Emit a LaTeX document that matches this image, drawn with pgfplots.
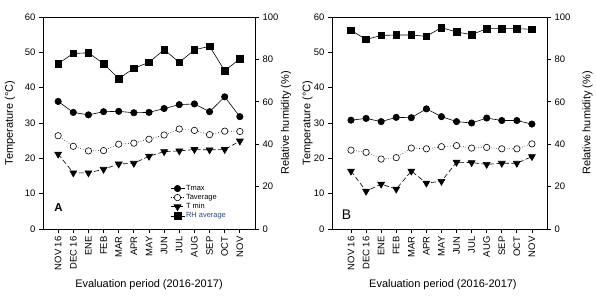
\documentclass[border=0pt]{standalone}
\usepackage{pgfplots}
\usepackage{pgfplotstable}
\pgfplotsset{compat=1.18}
\usepackage{fontspec}
\setmainfont{Liberation Sans}
\definecolor{rhblue}{RGB}{45,70,130}

\pgfplotstableread{
x tmax tavg tmin rh
0 36.1 26.4 21.2 78.0
1 33.0 23.4 15.9 82.8
2 32.3 22.1 15.9 83.1
3 33.2 22.2 16.9 78.0
4 33.3 24.0 18.4 70.9
5 32.9 24.3 18.6 75.8
6 33.0 25.4 20.6 78.6
7 34.1 26.6 21.9 84.6
8 35.2 28.3 22.1 78.6
9 35.4 27.9 22.5 84.5
10 33.2 26.7 22.4 86.2
11 37.4 27.7 22.5 74.6
12 31.8 27.6 24.9 80.3
}\tabA

\pgfplotstableread{
x tmax tavg tmin rh
0 30.8 22.3 16.4 93.7
1 31.3 21.7 10.7 89.4
2 30.4 19.8 12.7 91.3
3 31.6 20.2 11.3 91.5
4 31.5 22.9 16.4 91.5
5 34.0 22.7 13.0 90.9
6 31.8 23.3 13.5 95.0
7 30.4 23.6 18.9 92.9
8 30.0 22.9 18.8 91.7
9 31.4 23.1 18.3 94.5
10 30.7 22.7 18.6 94.5
11 30.7 22.7 18.6 94.5
12 29.7 24.1 20.5 94.2
}\tabB

\pgfplotsset{
  base/.style={
    scale only axis, height=212bp,
    ymin=0,
    /pgf/number format/assume math mode=true,
    tick label style={font=\fontsize{9.5}{10}\selectfont},
    label style={font=\fontsize{11}{12}\selectfont},
    tick align=outside, major tick length=4bp,
    axis line style={line width=0.8bp},
    every tick/.style={line width=0.8bp, black},
    xtick={0,...,12},
    xticklabels={NOV 16,DEC 16,ENE,FEB,MAR,APR,MAY,JUN,JUL,AUG,SEP,OCT,NOV},
    xticklabel style={rotate=90, anchor=east},
  },
  left/.style={base, ymax=60, ytick={0,10,...,60}, ytick pos=left, xtick pos=bottom,
    ylabel={Temperature (\textdegree C)}},
  right/.style={base, ymax=100, ytick={0,20,...,100}, axis x line=none, axis y line*=right,
    ylabel={Relative humidity (\%)}},
  tmaxs/.style={black, line width=0.6bp, mark=*, mark size=3.2bp},
  tavgs/.style={black, line width=0.6bp, dotted, mark=*, mark size=3.2bp, mark options={solid, fill=white}},
  tmins/.style={black, line width=0.6bp, dash pattern=on 5bp off 2.5bp, mark=triangle*, mark size=4bp, mark options={solid, rotate=180}},
  rhs/.style={black, line width=0.6bp, mark=square*, mark size=3.3bp},
}

\begin{document}
\begin{tikzpicture}
% Panel A
\begin{axis}[left, at={(0,0)}, anchor=south west, width=212bp, xmin=-1, xmax=13,
  ylabel style={at={(axis description cs:-0.156,0.5)}, anchor=center},
  xlabel={Evaluation period (2016-2017)},
  xlabel style={at={(axis description cs:0.5,-0.264)}, anchor=center}]
\addplot[tmaxs] table[x=x,y=tmax]{\tabA};
\addplot[tavgs] table[x=x,y=tavg]{\tabA};
\addplot[tmins] table[x=x,y=tmin]{\tabA};
\node[font=\fontsize{11.5}{12}\selectfont\bfseries] at (axis description cs:0.073,0.101) {A};
\end{axis}
\begin{axis}[right, at={(0,0)}, anchor=south west, width=212bp, xmin=-1, xmax=13,
  ylabel style={at={(axis description cs:1.146,0.5)}, anchor=center},
  legend style={at={(axis description cs:0.585,0.03)}, anchor=south west, draw=none, fill=none,
    font=\fontsize{7.5}{8}\selectfont, row sep=0pt, nodes={inner sep=1.2bp}},
  legend cell align=left,
  legend image code/.code={\draw[mark repeat=2,mark phase=2] plot coordinates {(0bp,0bp) (7bp,0bp) (14bp,0bp)};}]
\addlegendimage{tmaxs}
\addlegendentry{Tmax}
\addlegendimage{tavgs}
\addlegendentry{Taverage}
\addlegendimage{tmins}
\addlegendentry{T min}
\addplot[rhs] table[x=x,y=rh]{\tabA};
\addlegendentry{\textcolor{rhblue}{RH average}}
\end{axis}

% Panel B
\begin{axis}[left, at={(289bp,0)}, anchor=south west, width=215bp, xmin=-1.26, xmax=13,
  ylabel style={at={(axis description cs:-0.114,0.5)}, anchor=center},
  xlabel={Evaluation period (2016-2017)},
  xlabel style={at={(axis description cs:0.516,-0.264)}, anchor=center}]
\addplot[tmaxs] table[x=x,y=tmax]{\tabB};
\addplot[tavgs] table[x=x,y=tavg]{\tabB};
\addplot[tmins] table[x=x,y=tmin]{\tabB};
\node[font=\fontsize{14}{15}\selectfont] at (axis description cs:0.068,0.066) {B};
\end{axis}
\begin{axis}[right, at={(289bp,0)}, anchor=south west, width=215bp, xmin=-1.26, xmax=13,
  ylabel style={at={(axis description cs:1.188,0.5)}, anchor=center}]
\addplot[rhs] table[x=x,y=rh]{\tabB};
\end{axis}

\pgfresetboundingbox
\path (-43bp,-68bp) rectangle (553bp,229bp);
\end{tikzpicture}
\end{document}
